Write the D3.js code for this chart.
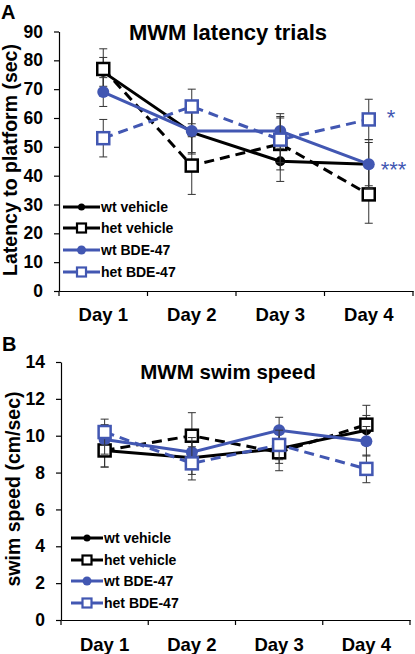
<!DOCTYPE html>
<html><head><meta charset="utf-8">
<script src="https://cdn.jsdelivr.net/npm/d3@7"></script>
<style>
html,body{margin:0;padding:0;background:#fff;}
text{font-family:"Liberation Sans",Arial,sans-serif;font-weight:bold;}
</style></head>
<body><svg id="c" width="415" height="654"></svg>
<script>
const days = ["Day 1","Day 2","Day 3","Day 4"];
const seriesNames = ["wt vehicle","het vehicle","wt BDE-47","het BDE-47"];

// Panel A: latency (sec)
const wtVehLat = [76, 55, 45, 44];
const wtVehLatErr = [5, 7, 7, 7.5];
const hetVehLat = [77, 43.5, 51, 33.5];
const hetVehLatErr = [7, 10, 9, 10];
const wtBdeLat = [69, 55.5, 55.5, 44];
const wtBdeLatErr = [5, 8, 6, 8.5];
const hetBdeLat = [53, 64, 52.5, 59.5];
const hetBdeLatErr = [6.5, 6, 8, 7];
const latTicks = [0,10,20,30,40,50,60,70,80,90];

// Panel B: swim speed (cm/sec)
const wtVehSpd = [9.2, 8.8, 9.3, 10.3];
const wtVehSpdErr = [0.9, 0.9, 0.8, 0.8];
const hetVehSpd = [9.2, 10.0, 9.1, 10.6];
const hetVehSpdErr = [0.9, 1.25, 1.0, 1.05];
const wtBdeSpd = [9.8, 9.1, 10.3, 9.7];
const wtBdeSpdErr = [0.8, 0.8, 0.7, 0.8];
const hetBdeSpd = [10.2, 8.5, 9.5, 8.2];
const hetBdeSpdErr = [0.7, 0.9, 0.8, 0.75];
const spdTicks = [0,2,4,6,8,10,12,14];

const BLUE = "#4257b2";
const styles = [
  {color:"#000", dash:null, marker:"circle", r:5},
  {color:"#000", dash:"10,6", marker:"square", s:12},
  {color:BLUE, dash:null, marker:"circle", r:6},
  {color:BLUE, dash:"10,6", marker:"square", s:12}
];

const svg = d3.select("#c");

function panel(o){
  const g = svg.append("g");
  const x = d3.scaleBand().domain(days).range([o.x0, o.x1]);
  const y = d3.scaleLinear().domain([0, o.ymax]).range([o.yb, o.yt]);

  // y axis
  const ya = g.append("g").attr("transform",`translate(${o.x0},0)`)
    .call(d3.axisLeft(y).tickValues(o.ticks).tickSize(5).tickPadding(11).tickSizeOuter(0));
  ya.select(".domain").attr("stroke","#000").attr("stroke-width",1.2);
  ya.selectAll(".tick line").attr("stroke","#000").attr("stroke-width",1.2);
  ya.selectAll(".tick text").attr("font-size",17.5).attr("fill","#000")
    .style("font-family","'Liberation Sans',Arial,sans-serif").style("font-weight","bold");

  // x axis
  const xa = g.append("g").attr("transform",`translate(0,${o.yb})`)
    .call(d3.axisBottom(x).tickSize(0).tickPadding(0));
  xa.select(".domain").attr("stroke","#000").attr("stroke-width",1.2);
  xa.selectAll(".tick text").remove();
  const edges = days.map(d=>x(d)).concat([o.x1]);
  g.selectAll("line.xt").data(edges).enter().append("line")
    .attr("x1",d=>d).attr("x2",d=>d).attr("y1",o.yb).attr("y2",o.yb+5)
    .attr("stroke","#000").attr("stroke-width",1.2);
  g.selectAll("text.xl").data(days).enter().append("text")
    .attr("x",d=>x(d)+x.bandwidth()/2).attr("y",o.yb+o.dayDy)
    .attr("text-anchor","middle").attr("font-size",18.5).text(d=>d);

  // title
  g.append("text").attr("x",o.tx).attr("y",o.ty).attr("text-anchor","middle")
    .attr("font-size",o.tfs).text(o.title);
  // y label
  g.append("text").attr("transform",`translate(${o.lx},${o.ly}) rotate(-90)`)
    .attr("text-anchor","middle").attr("font-size",19.5).text(o.ylabel);
  // panel letter
  g.append("text").attr("x",o.px).attr("y",o.py).attr("font-size",20).text(o.letter);

  const cx = d => x(d)+x.bandwidth()/2;

  o.series.forEach((vals,i)=>{
    const st = styles[i], errs = o.errs[i];
    const pts = days.map((d,j)=>({d, v:vals[j], e:errs[j]}));
    // error bars
    const eb = g.append("g").attr("stroke","#333").attr("stroke-width",1);
    pts.forEach(p=>{
      eb.append("line").attr("x1",cx(p.d)).attr("x2",cx(p.d)).attr("y1",y(p.v+p.e)).attr("y2",y(p.v-p.e));
      [p.v+p.e, p.v-p.e].forEach(v=>eb.append("line").attr("x1",cx(p.d)-4).attr("x2",cx(p.d)+4).attr("y1",y(v)).attr("y2",y(v)));
    });
    // line
    g.append("path").datum(pts)
      .attr("d", d3.line().x(p=>cx(p.d)).y(p=>y(p.v)))
      .attr("fill","none").attr("stroke",st.color).attr("stroke-width",3)
      .attr("stroke-dasharray",st.dash);
    // markers
    pts.forEach(p=>{
      if(st.marker==="circle"){
        g.append("circle").attr("cx",cx(p.d)).attr("cy",y(p.v)).attr("r",st.r).attr("fill",st.color);
      } else {
        g.append("rect").attr("x",cx(p.d)-st.s/2).attr("y",y(p.v)-st.s/2).attr("width",st.s).attr("height",st.s)
          .attr("fill","#fff").attr("stroke",st.color).attr("stroke-width",2.5);
      }
    });
  });

  // legend
  seriesNames.forEach((name,i)=>{
    const st = styles[i], ly = o.legY[i];
    g.append("line").attr("x1",o.legX0).attr("x2",o.legX1).attr("y1",ly).attr("y2",ly)
      .attr("stroke",st.color).attr("stroke-width",3);
    const mx = (o.legX0+o.legX1)/2;
    if(st.marker==="circle"){
      g.append("circle").attr("cx",mx).attr("cy",ly).attr("r",i===0?3.5:4.5).attr("fill",st.color);
    } else {
      g.append("rect").attr("x",mx-4.5).attr("y",ly-4.5).attr("width",9).attr("height",9)
        .attr("fill","#fff").attr("stroke",st.color).attr("stroke-width",2.2);
    }
    g.append("text").attr("x",o.legX1+1).attr("y",ly+5).attr("font-size",14).text(name);
  });

  return {x, y, cx, g};
}

const A = panel({
  x0:59, x1:413, yb:291, yt:31.5, ymax:90, ticks:latTicks,
  series:[wtVehLat,hetVehLat,wtBdeLat,hetBdeLat],
  errs:[wtVehLatErr,hetVehLatErr,wtBdeLatErr,hetBdeLatErr],
  title:"MWM latency trials", tx:228, ty:40, tfs:22,
  ylabel:"Latency to platform (sec)", lx:17, ly:160,
  letter:"A", px:1, py:19, dayDy:30,
  legX0:63, legX1:100, legY:[207,228,250,272]
});
A.g.append("text").attr("x",A.cx("Day 4")+18).attr("y",A.y(hetBdeLat[3])+6)
  .attr("font-size",22).attr("fill",BLUE).style("font-weight","normal").text("*");
A.g.append("text").attr("x",A.cx("Day 4")+12).attr("y",A.y(wtBdeLat[3])+13)
  .attr("font-size",22).attr("fill",BLUE).style("font-weight","normal").text("***");

panel({
  x0:61, x1:410, yb:620, yt:362, ymax:14, ticks:spdTicks,
  series:[wtVehSpd,hetVehSpd,wtBdeSpd,hetBdeSpd],
  errs:[wtVehSpdErr,hetVehSpdErr,wtBdeSpdErr,hetBdeSpdErr],
  title:"MWM swim speed", tx:228, ty:379, tfs:20.5,
  ylabel:"swim speed (cm/sec)", lx:20, ly:489,
  letter:"B", px:2, py:351, dayDy:31,
  legX0:71, legX1:103, legY:[538,560,581,603]
});
</script></body></html>
